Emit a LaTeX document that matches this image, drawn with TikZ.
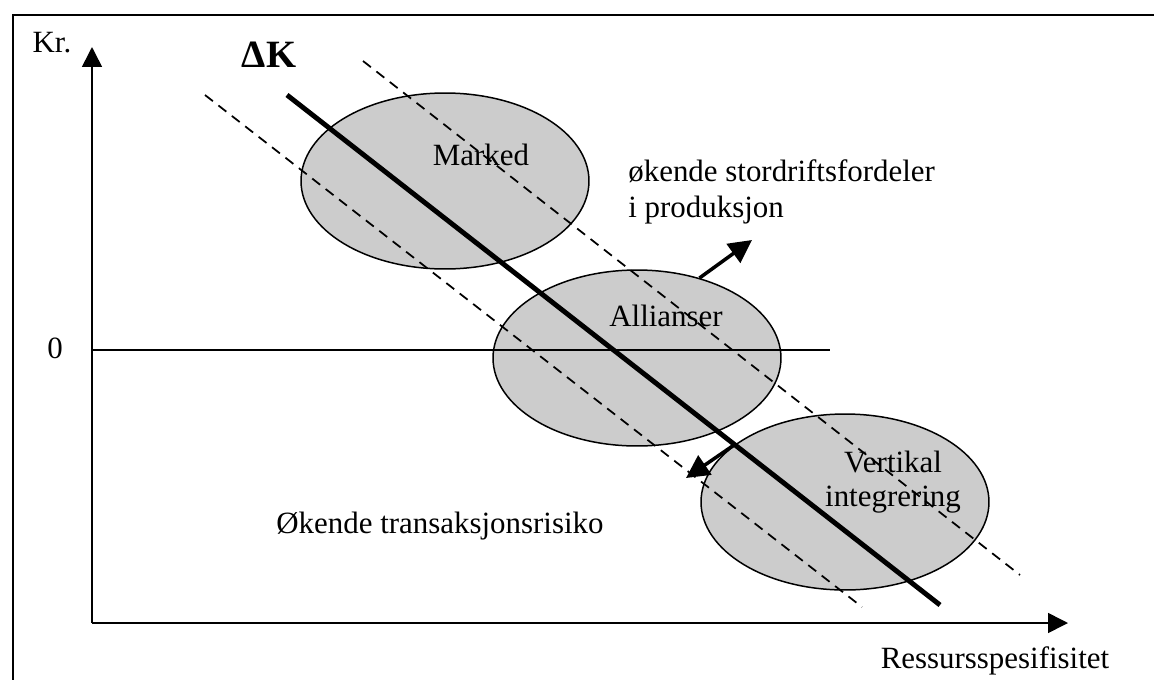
\documentclass[tikz,border=0pt]{standalone}
\usepackage{fontspec}
\setmainfont{Liberation Serif}
\usetikzlibrary{arrows.meta,shapes.geometric}

\tikzset{
    region/.style={ellipse, draw, line width=0.85pt, fill=black!20, minimum width=5.76cm, minimum height=3.52cm, inner sep=0pt},
    axis/.style={line width=0.9pt, -{Triangle[length=0.4cm,width=0.4cm]}},
    push/.style={line width=2pt, -{Triangle[length=0.46cm,width=0.46cm]}},
    band/.style={line width=1pt, dash pattern=on 0.2cm off 0.14cm},
    lbl/.style={font=\fontsize{17.6}{20.4}\selectfont, inner sep=0pt},
}

\begin{document}
\begin{tikzpicture}[x=0.02cm, y=-0.02cm]
    \useasboundingbox (0,0) rectangle (1154,680);
    \clip (0,0) rectangle (1154,680);
    \draw[line width=1.1pt] (13,15) rectangle (1170,700);

    \node[region] (marked) at (445,181) {};
    \node[region] (alli) at (637,358) {};
    \node[region] (vert) at (845,502) {};

    \coordinate (o) at (92,623);
    \coordinate (ytop) at (92,47);
    \coordinate (xend) at (1068,623);
    \coordinate (z0) at (92,350);
    \coordinate (z1) at (830,350);
    \draw[axis] (o) -- (ytop);
    \draw[axis] (o) -- (xend);
    \draw[line width=0.9pt] (z0) -- (z1);

    \coordinate (lo0) at (205,95);
    \coordinate (lo1) at (862,607);
    \coordinate (hi0) at (363,61);
    \coordinate (hi1) at (1020,575);
    \coordinate (k0) at (287,95);
    \coordinate (k1) at (940,605);
    \draw[band] (lo0) -- (lo1);
    \draw[band] (hi0) -- (hi1);
    \draw[line width=2.8pt] (k0) -- (k1);

    \coordinate (up) at (752,240);
    \coordinate (down) at (686,478);
    \draw[push] (alli.52) -- (up);
    \draw[push] (vert.152) -- (down);

    \node[lbl] (kr) at (52,43) {Kr.};
    \node[lbl, font=\bfseries\fontsize{22}{26}\selectfont] (dk) at (269,55) {ΔK};
    \node[lbl] (zero) at (55,348) {0};
    \node[lbl, anchor=base] (ress) at (995,668) {Ressursspesifisitet};
    \node[lbl] (tmarked) at (481,155) {Marked};
    \node[lbl] (talli) at (666,316) {Allianser};
    \node[lbl, align=center, font=\fontsize{17.6}{19.3}\selectfont] (tvert) at (893,482) {Vertikal\\integrering};
    \node[lbl, align=left, anchor=west] (stord) at (628,192) {økende stordriftsfordeler\\i produksjon};
    \node[lbl, anchor=base] (trans) at (440,533) {Økende transaksjonsrisiko};
\end{tikzpicture}
\end{document}
